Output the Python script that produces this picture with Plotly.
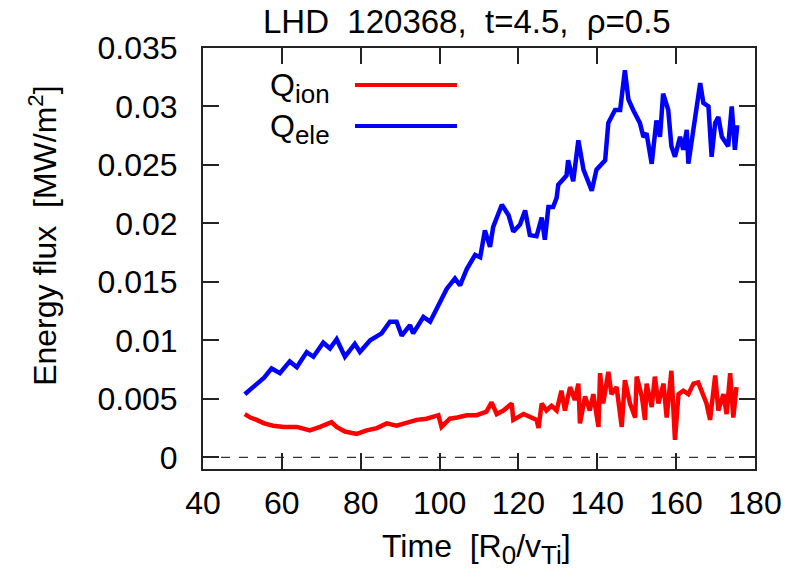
import plotly.graph_objects as go

# ---- data ----
t_ele = [50.6, 52.0, 53.6, 55.5, 57.4, 59.5, 62.0, 63.8, 66.3, 68.0, 70.5, 72.2, 73.9, 76.0, 78.5,
         79.8, 82.4, 85.3, 87.4, 89.1, 90.4, 92.5, 93.3, 95.9, 97.6, 100.1, 101.8, 103.9, 105.2,
         106.9, 109.0, 110.3, 111.5, 112.8, 113.6, 115.8, 117.5, 118.7, 120.4, 121.7, 122.9,
         124.6, 125.9, 126.7, 127.6, 128.8, 129.7, 130.1, 132.2, 132.6, 133.9, 135.2, 136.5,
         138.6, 139.8, 142.0, 142.8, 144.5, 145.8, 147.0, 147.9, 149.1, 150.8, 151.7, 152.5,
         153.8, 155.0, 155.9, 156.7, 158.0, 158.8, 159.7, 161.0, 161.8, 162.7, 163.1, 164.4,
         166.1, 166.9, 168.2, 169.0, 169.9, 170.7, 171.6, 173.2, 174.1, 174.9, 175.5]
q_ele = [0.0054, 0.0058, 0.0063, 0.0068, 0.0076, 0.0072, 0.0082, 0.0077, 0.0090, 0.0086, 0.0098,
         0.0093, 0.0101, 0.0086, 0.0097, 0.0090, 0.0100, 0.0106, 0.0116, 0.0116, 0.0104, 0.0113,
         0.0106, 0.0120, 0.0116, 0.0132, 0.0144, 0.0153, 0.0147, 0.0161, 0.0173, 0.0171, 0.0194,
         0.0180, 0.0197, 0.0216, 0.0207, 0.0193, 0.0199, 0.0211, 0.0190, 0.0189, 0.0205, 0.0186,
         0.0214, 0.0214, 0.0222, 0.0233, 0.0241, 0.0254, 0.0236, 0.0271, 0.0246, 0.0228, 0.0246,
         0.0254, 0.0286, 0.0297, 0.0297, 0.0331, 0.0306, 0.0297, 0.0286, 0.0274, 0.0277, 0.0251,
         0.0288, 0.0274, 0.0311, 0.0297, 0.0266, 0.0257, 0.0274, 0.0263, 0.0280, 0.0251, 0.0283,
         0.0320, 0.0303, 0.0300, 0.0257, 0.0286, 0.0291, 0.0274, 0.0266, 0.0300, 0.0263, 0.0284]

t_ion = [50.6, 52.0, 53.6, 55.5, 57.8, 60.5, 63.8, 67.1, 69.7, 72.6, 73.9, 76.0, 79.0, 81.5, 84.1,
         86.6, 89.1, 91.7, 94.2, 96.7, 99.7, 100.5, 102.6, 104.5, 106.9, 109.4, 111.9, 113.2,
         114.5, 116.2, 118.3, 118.7, 121.3, 124.6, 125.1, 125.9, 127.1, 128.4, 129.7, 130.9,
         131.8, 133.1, 134.3, 135.2, 135.6, 136.9, 138.1, 139.0, 140.3, 140.7, 141.5, 142.8,
         143.6, 144.9, 146.2, 147.0, 148.3, 149.6, 150.0, 151.3, 152.1, 152.5, 153.8, 154.6,
         155.5, 156.8, 157.6, 158.8, 159.7, 160.6, 161.8, 163.1, 164.4, 165.6, 166.4, 167.7,
         168.6, 169.9, 170.7, 172.0, 172.8, 173.7, 174.5, 175.3]
q_ion = [0.0037, 0.0034, 0.0032, 0.0029, 0.0027, 0.0026, 0.0026, 0.0023, 0.0026, 0.0030, 0.0026,
         0.0022, 0.0020, 0.0023, 0.0025, 0.0029, 0.0027, 0.0030, 0.0032, 0.0033, 0.0036, 0.0026,
         0.0033, 0.0034, 0.0036, 0.0036, 0.0039, 0.0047, 0.0037, 0.0040, 0.0046, 0.0032, 0.0037,
         0.0032, 0.0025, 0.0046, 0.0040, 0.0044, 0.0040, 0.0057, 0.0040, 0.0060, 0.0049, 0.0063,
         0.0029, 0.0052, 0.0040, 0.0054, 0.0026, 0.0072, 0.0046, 0.0073, 0.0054, 0.0060, 0.0026,
         0.0066, 0.0046, 0.0034, 0.0069, 0.0052, 0.0032, 0.0063, 0.0043, 0.0069, 0.0046, 0.0063,
         0.0034, 0.0074, 0.0015, 0.0054, 0.0057, 0.0054, 0.0063, 0.0064, 0.0057, 0.0046, 0.0032,
         0.0070, 0.0040, 0.0054, 0.0037, 0.0072, 0.0034, 0.0060]

x_ticks = [40, 60, 80, 100, 120, 140, 160, 180]
y_ticks = [0, 0.005, 0.01, 0.015, 0.02, 0.025, 0.03, 0.035]
y_ticktext = ["0", "0.005", "0.01", "0.015", "0.02", "0.025", "0.03", "0.035"]

FONT = "Liberation Sans, Arial, sans-serif"
SUB = "<sub><span style='font-size:26px'>{}</span></sub>"

fig = go.Figure()
fig.add_trace(go.Scatter(x=t_ion, y=q_ion, mode="lines", name="Q_ion",
                         line=dict(color="#ff0000", width=4.5), showlegend=False))
fig.add_trace(go.Scatter(x=t_ele, y=q_ele, mode="lines", name="Q_ele",
                         line=dict(color="#0000ff", width=4.5), showlegend=False))

# zero axis (dotted)
fig.add_shape(type="line", xref="paper", yref="y", x0=0, x1=1, y0=0, y1=0,
              line=dict(color="black", width=1, dash="dash"), layer="below")

axis_common = dict(showline=True, linecolor="#222", linewidth=2, mirror="allticks",
                   ticks="inside", ticklen=16, tickwidth=1.5, tickcolor="#222",
                   showgrid=False, zeroline=False,
                   tickfont=dict(family=FONT, size=32, color="black"))

fig.update_xaxes(range=[40, 180], tickvals=x_ticks, ticklabelstandoff=5, **axis_common)
fig.update_yaxes(range=[-0.001, 0.035], tickvals=y_ticks, ticktext=y_ticktext,
                 ticklabelstandoff=17, **axis_common)

# legend (text left, line right, as in the reference)
leg = [("Q" + SUB.format("ion"), "#ff0000", 0.912), ("Q" + SUB.format("ele"), "#0000ff", 0.815)]
for txt, col, yy in leg:
    fig.add_shape(type="line", xref="paper", yref="paper", x0=0.2754, x1=0.4601, y0=yy, y1=yy,
                  line=dict(color=col, width=4))
    fig.add_annotation(text=txt, xref="paper", yref="paper", x=0.234, y=yy - 0.008,
                       xanchor="right", yanchor="middle", showarrow=False,
                       font=dict(family=FONT, size=32, color="black"))

fig.add_annotation(text="LHD\u00a0\u00a0120368,\u00a0\u00a0t=4.5,\u00a0\u00a0\u03c1=0.5",
                   xref="paper", yref="paper", x=0.478, y=1.062, xanchor="center",
                   yanchor="middle", showarrow=False,
                   font=dict(family=FONT, size=33, color="black"))
fig.add_annotation(text="Energy flux\u00a0\u00a0[MW/m<sup>2</sup>]", textangle=-90,
                   xref="paper", yref="paper", x=-0.29, y=0.556, xanchor="center",
                   yanchor="middle", showarrow=False,
                   font=dict(family=FONT, size=32, color="black"))
fig.add_annotation(text="Time\u00a0\u00a0[R" + SUB.format("0") + "/v" + SUB.format("Ti") + "]",
                   xref="paper", yref="paper", x=0.496, y=-0.19, xanchor="center",
                   yanchor="middle", showarrow=False,
                   font=dict(family=FONT, size=32, color="black"))

fig.update_layout(width=800, height=580, margin=dict(l=203, r=45, t=48, b=111),
                  paper_bgcolor="white", plot_bgcolor="white")

fig.write_html("out.html")
